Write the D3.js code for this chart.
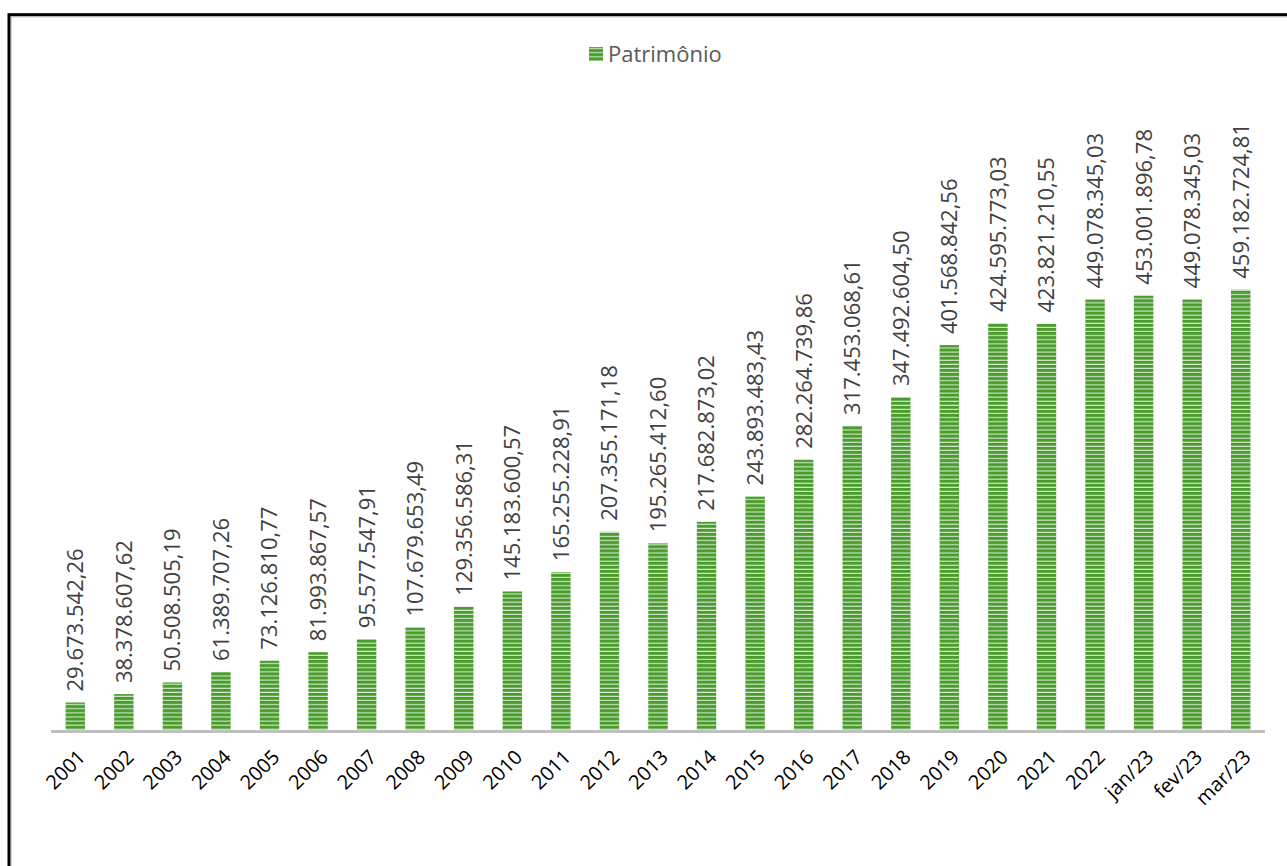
<!DOCTYPE html>
<html><head><meta charset="utf-8">
<script src="https://cdn.jsdelivr.net/npm/d3@7"></script>
<style>body{margin:0;background:#fff}svg{display:block}</style>
</head><body>
<script>
const categories = ["2001","2002","2003","2004","2005","2006","2007","2008","2009","2010","2011","2012","2013","2014","2015","2016","2017","2018","2019","2020","2021","2022","jan/23","fev/23","mar/23"];
const values = [29673542.26,38378607.62,50508505.19,61389707.26,73126810.77,81993867.57,95577547.91,107679653.49,129356586.31,145183600.57,165255228.91,207355171.18,195265412.60,217682873.02,243893483.43,282264739.86,317453068.61,347492604.50,401568842.56,424595773.03,423821210.55,449078345.03,453001896.78,449078345.03,459182724.81];
const valueLabels = ["29.673.542,26","38.378.607,62","50.508.505,19","61.389.707,26","73.126.810,77","81.993.867,57","95.577.547,91","107.679.653,49","129.356.586,31","145.183.600,57","165.255.228,91","207.355.171,18","195.265.412,60","217.682.873,02","243.893.483,43","282.264.739,86","317.453.068,61","347.492.604,50","401.568.842,56","424.595.773,03","423.821.210,55","449.078.345,03","453.001.896,78","449.078.345,03","459.182.724,81"];
const seriesName = "Patrimônio";

const W = 1287, H = 866;
const svg = d3.select("body").append("svg").attr("width", W).attr("height", H);
const defs = svg.append("defs");
const pat = defs.append("pattern").attr("id","stripes").attr("patternUnits","userSpaceOnUse")
  .attr("width",8).attr("height",4.1);
pat.append("rect").attr("width",8).attr("height",4.1).attr("fill","#4a9c2c");
pat.append("rect").attr("y",3).attr("width",8).attr("height",1.1).attr("fill","#d4ead0");

// frame
svg.append("rect").attr("x",11.5).attr("y",17).attr("width",1400).attr("height",1000)
  .attr("fill","none").attr("stroke","#d0d0d0").attr("stroke-width",1);
svg.append("rect").attr("x",9).attr("y",14.7).attr("width",1400).attr("height",1000)
  .attr("fill","none").attr("stroke","#000").attr("stroke-width",3);

const x = d3.scaleBand().domain(categories).range([51,1265]).paddingInner(0.6).paddingOuter(0.3);
const y = d3.scaleLinear().domain([0,500000000]).range([731,250.5]);

const font = "'Open Sans', 'Noto Sans', sans-serif";

svg.selectAll("rect.bar").data(values).join("rect").attr("class","bar")
  .attr("x",(d,i)=>x(categories[i])).attr("width",x.bandwidth())
  .attr("y",d=>y(d)).attr("height",d=>y(0)-y(d))
  .attr("fill","url(#stripes)");

svg.selectAll("text.vl").data(values).join("text").attr("class","vl")
  .attr("transform",(d,i)=>`translate(${x(categories[i])+x.bandwidth()/2},${y(d)-11}) rotate(-90)`)
  .attr("dy","0.36em").attr("text-anchor","start")
  .attr("font-family",font).attr("font-size",22).attr("fill","#404040")
  .text((d,i)=>valueLabels[i]);

// axis
const axis = svg.append("g").attr("transform","translate(0,731)").call(d3.axisBottom(x).tickSize(0).tickPadding(0));
axis.select(".domain").attr("stroke","#bfbfbf").attr("stroke-width",3).attr("d","M51,0.5H1265");
axis.selectAll(".tick text")
  .attr("font-family",font).attr("font-size",20).attr("fill","#000")
  .attr("text-anchor","end").attr("dy",null).attr("y",null)
  .attr("transform","translate(6,22) rotate(-45)").attr("dominant-baseline","central");

// legend
const lg = svg.append("g");
lg.append("rect").attr("x",589).attr("y",47).attr("width",14).attr("height",14).attr("fill","url(#stripes)");
lg.append("text").attr("x",608).attr("y",54).attr("dy","0.35em").attr("font-family",font)
  .attr("font-size",22).attr("fill","#595959").text(seriesName);
</script>
</body></html>
